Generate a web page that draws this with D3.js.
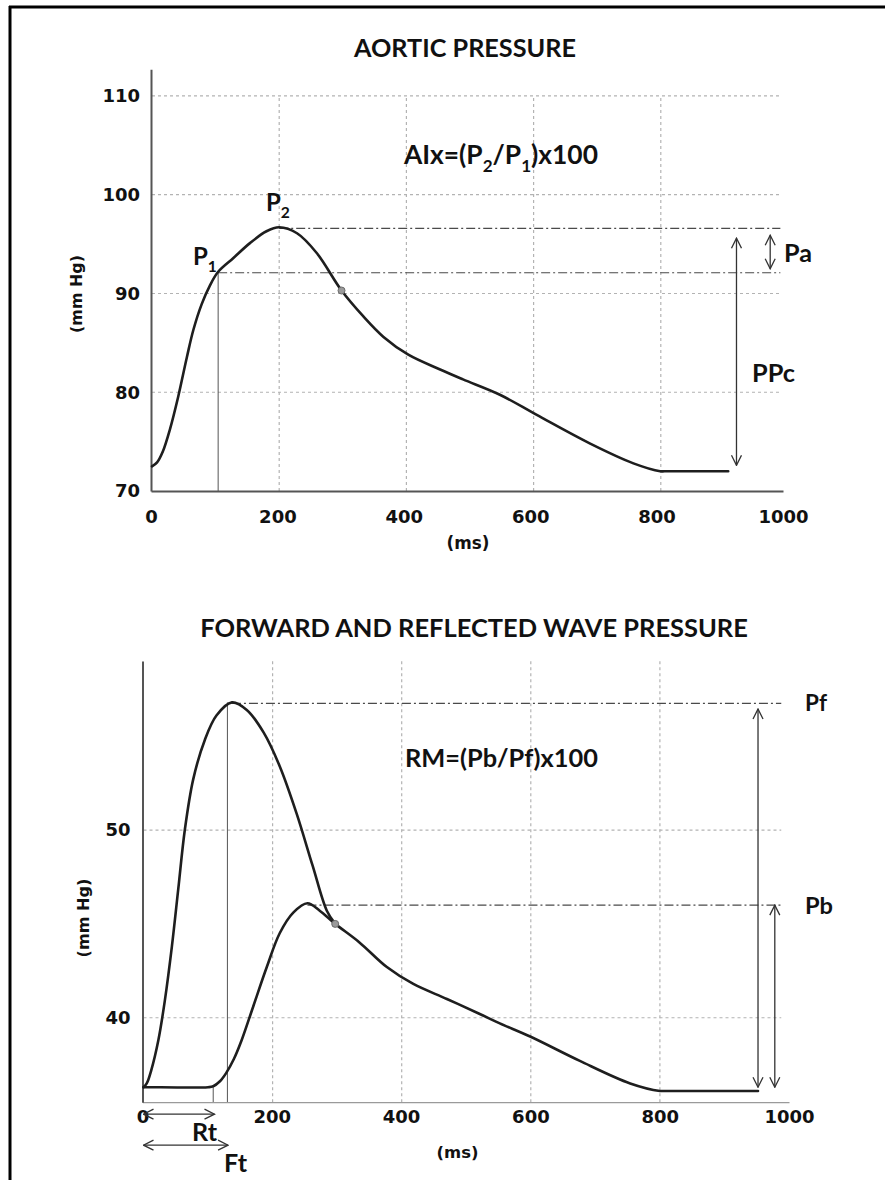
<!DOCTYPE html>
<html><head><meta charset="utf-8">
<script src="https://cdn.jsdelivr.net/npm/d3@7"></script>
<style>body{margin:0;background:#fff}svg{display:block}</style>
</head><body>
<svg id="c" width="885" height="1180"></svg>
<script>
// ---------- DATA ----------
const xTicks = [0, 200, 400, 600, 800, 1000];
const gridX = [200, 400, 600, 800];
const aorticYTicks = [70, 80, 90, 100, 110];
const aorticGridY = [80, 90, 100, 110];
const waveYTicks = [40, 50];

const aorticTime = [0,8,17,28,41,55,65,78,91,104,128,154,180,200,228,259,298,332,364,403,453,489,547,605,689,757,799,806,906];
const aorticPressure = [72.5,72.9,74.0,76.2,79.5,83.6,86.3,88.9,90.8,92.2,93.6,95.1,96.3,96.7,96.1,94.1,90.3,87.7,85.6,83.8,82.3,81.3,79.75,77.7,74.8,72.8,72.0,72.0,72.0];

const forwardTime = [0,5,12,23,33,44,54,64,77,95,113,137,160,186,211,237,262,284,297];
const forwardPressure = [36.3,36.5,37.2,38.8,40.9,43.8,46.9,50.0,52.7,54.8,56.1,56.8,56.4,55.2,53.4,50.9,48.1,45.7,45.0];

const reflectedTime = [0,8,100,108,118,128,140,152,170,191,211,232,254,273,297,335,377,418,470,521,552,599,676,754,800,808,952];
const reflectedPressure = [36.3,36.3,36.3,36.35,36.6,37.05,37.8,38.8,40.6,42.7,44.5,45.6,46.1,45.7,45.0,44.0,42.7,41.8,41.0,40.2,39.7,39.0,37.7,36.5,36.1,36.1,36.1];

// annotation values (ms, mmHg)
const p1Point = [104, 92.2];
const p2Point = [200, 96.7];
const aorticCross = [298, 90.3];
const ppcArrow = [919, 95.6, 72.6];
const paArrow = [972, 95.9, 92.5];
const pfPeak = [137, 56.8];
const pbPeak = [254, 46.0];
const waveCross = [297, 45.0];
const pfArrow = [952, 56.45, 36.3];
const pbArrow = [978, 46.0, 36.3];
const rtTime = 108;
const ftTime = 130;
const gridEnd = 988;

// ---------- SETUP ----------
const svg = d3.select('#c');
const TITLE_FONT = 'Lato, "Open Sans", sans-serif';
const TICK_FONT = '"DejaVu Sans", sans-serif';
const GRID = '#b3b3b3', DASHDOT = '#4a4a4a', CURVE = '#1e1e1e';

const defs = svg.append('defs');
defs.append('marker').attr('id','ah').attr('viewBox','-1 -6 12 12')
  .attr('refX',10).attr('refY',0).attr('markerWidth',12).attr('markerHeight',12)
  .attr('markerUnits','userSpaceOnUse').attr('orient','auto-start-reverse')
  .append('path').attr('d','M0,-5 L10,0 L0,5').attr('fill','none')
  .attr('stroke','#333').attr('stroke-width',1.3);

// frame
svg.append('line').attr('x1',9).attr('x2',885).attr('y1',7).attr('y2',7).attr('stroke','#000').attr('stroke-width',3);
svg.append('line').attr('x1',10).attr('x2',10).attr('y1',6).attr('y2',1180).attr('stroke','#000').attr('stroke-width',3);

function label(g, parts, o) {
  const size0 = o.size || 20;
  const t = g.append('text')
    .attr('font-family', o.family || TITLE_FONT)
    .attr('font-weight', o.weight || 'bold')
    .attr('font-size', size0)
    .attr('text-anchor', o.anchor || 'start')
    .attr('fill', '#111');
  if (typeof parts === 'string') parts = [{t: parts}];
  const spans = parts.map(p => {
    const s = t.append('tspan').text(p.t);
    if (p.sub) s.attr('font-size', '0.65em');
    return {s, sub: !!p.sub};
  });
  let size = size0;
  if (o.width) {
    const w = t.node().getComputedTextLength();
    size = size0 * o.width / w;
    t.attr('font-size', size);
  }
  let shifted = false;
  spans.forEach(({s, sub}) => {
    if (sub && !shifted) { s.attr('dy', 0.3 * size); shifted = true; }
    else if (!sub && shifted) { s.attr('dy', -0.3 * size); shifted = false; }
  });
  if (o.rotate) {
    t.attr('transform', `translate(${o.x},${o.cy}) rotate(-90)`).attr('x', 0).attr('y', 0.36 * size);
  } else {
    t.attr('x', o.x).attr('y', o.cy + 0.36 * size);
  }
  return t;
}

function gridLines(g, xS, yS, xs, ys, yTop) {
  g.selectAll(null).data(ys).enter().append('line')
    .attr('x1', xS(0)).attr('x2', xS(gridEnd)).attr('y1', d => yS(d)).attr('y2', d => yS(d))
    .attr('stroke', GRID).attr('stroke-width', 1.2).attr('stroke-dasharray', '3,3');
  g.selectAll(null).data(xs).enter().append('line')
    .attr('x1', d => xS(d)).attr('x2', d => xS(d)).attr('y1', yS.range()[0]).attr('y2', yS(yTop))
    .attr('stroke', GRID).attr('stroke-width', 1.2).attr('stroke-dasharray', '3,3');
}
function hDashDot(g, xS, yS, t0, v) {
  g.append('line').attr('x1', xS(t0)).attr('x2', xS(gridEnd)).attr('y1', yS(v)).attr('y2', yS(v))
    .attr('stroke', DASHDOT).attr('stroke-width', 1.2).attr('stroke-dasharray', '9,3,2,3');
}
function vArrow(g, xS, yS, a) {
  g.append('line').attr('x1', xS(a[0])).attr('x2', xS(a[0])).attr('y1', yS(a[1])).attr('y2', yS(a[2]))
    .attr('stroke', '#333').attr('stroke-width', 1.3)
    .attr('marker-start', 'url(#ah)').attr('marker-end', 'url(#ah)');
}
function vThin(g, xS, yS, t, v0, v1) {
  g.append('line').attr('x1', xS(t)).attr('x2', xS(t)).attr('y1', yS(v0)).attr('y2', yS(v1))
    .attr('stroke', '#555').attr('stroke-width', 1);
}
function curve(g, xS, yS, ts, ps) {
  const line = d3.line().x(d => xS(d[0])).y(d => yS(d[1])).curve(d3.curveCatmullRom.alpha(0.5));
  g.append('path').datum(ts.map((t, i) => [t, ps[i]])).attr('d', line)
    .attr('fill', 'none').attr('stroke', CURVE).attr('stroke-width', 2.6)
    .attr('stroke-linejoin', 'round').attr('stroke-linecap', 'round');
}
function dot(g, xS, yS, p) {
  g.append('circle').attr('cx', xS(p[0])).attr('cy', yS(p[1])).attr('r', 3.5)
    .attr('fill', '#9a9a9a').attr('stroke', '#6a6a6a').attr('stroke-width', 1);
}
function styleAxis(sel, color, width, fontSize) {
  sel.select('.domain').attr('stroke', color).attr('stroke-width', width);
  sel.selectAll('.tick line').remove();
  sel.selectAll('.tick text').attr('font-family', TICK_FONT).attr('font-weight', 'bold')
    .attr('font-size', fontSize).attr('fill', '#111');
}
const fmt = d3.format('d');

// ---------- TOP CHART: AORTIC PRESSURE ----------
const xA = d3.scaleLinear().domain([0, 1000]).range([152, 788]);
const yA = d3.scaleLinear().domain([70, 112.7]).range([491, 69.3]);
const gA = svg.append('g');

gridLines(gA, xA, yA, gridX, aorticGridY, 110);
hDashDot(gA, xA, yA, p2Point[0], 96.6);
hDashDot(gA, xA, yA, p1Point[0], 92.1);
vThin(gA, xA, yA, p1Point[0], p1Point[1], 70);

const axA_y = gA.append('g').attr('transform', `translate(${xA(0) - 1},0)`)
  .call(d3.axisLeft(yA).tickValues(aorticYTicks).tickFormat(fmt).tickSize(0).tickPadding(11).tickSizeOuter(0));
styleAxis(axA_y, '#555', 2, 18);
const axA_x = gA.append('g').attr('transform', `translate(0,${yA(70)})`)
  .call(d3.axisBottom(xA.copy().range([151, 783])).tickValues(xTicks).tickFormat(fmt).tickSize(0).tickPadding(19).tickSizeOuter(0));
styleAxis(axA_x, '#555', 2, 18);

curve(gA, xA, yA, aorticTime, aorticPressure);
dot(gA, xA, yA, aorticCross);
vArrow(gA, xA, yA, ppcArrow);
vArrow(gA, xA, yA, paArrow);

label(gA, 'AORTIC PRESSURE', {x: 465, cy: 48, anchor: 'middle', width: 222, size: 22});
label(gA, [{t:'AIx=(P'},{t:'2',sub:true},{t:'/P'},{t:'1',sub:true},{t:')x100'}], {x: 404, cy: 155, width: 194, size: 24});
label(gA, [{t:'P'},{t:'2',sub:true}], {x: 266, cy: 202.5, size: 24});
label(gA, [{t:'P'},{t:'1',sub:true}], {x: 193, cy: 256.5, size: 24});
label(gA, 'Pa', {x: 784, cy: 252.5, width: 28, size: 24});
label(gA, 'PPc', {x: 752, cy: 373, width: 43, size: 24});
label(gA, '(ms)', {x: 468, cy: 543, anchor: 'middle', width: 43, size: 15, family: TICK_FONT});
label(gA, '(mm Hg)', {x: 76, cy: 294, anchor: 'middle', width: 78, size: 14, family: TICK_FONT, rotate: true});

// ---------- BOTTOM CHART: FORWARD AND REFLECTED WAVE ----------
const xB = d3.scaleLinear().domain([0, 1000]).range([143.5, 789]);
const yB = d3.scaleLinear().domain([35.5, 59]).range([1102.2, 661.1]);
const gB = svg.append('g');

gridLines(gB, xB, yB, gridX, waveYTicks, 59);
hDashDot(gB, xB, yB, pfPeak[0], 56.75);
hDashDot(gB, xB, yB, pbPeak[0], pbPeak[1]);
vThin(gB, xB, yB, ftTime, pfPeak[1], 35.5);
vThin(gB, xB, yB, rtTime, 36.3, 35.5);

const axB_x = gB.append('g').attr('transform', `translate(0,${yB(35.5)})`)
  .call(d3.axisBottom(xB.copy().range([142.5, 789])).tickValues(xTicks).tickFormat(fmt).tickSize(0).tickPadding(8).tickSizeOuter(0));
styleAxis(axB_x, '#9a9a9a', 1.2, 18);
const axB_y = gB.append('g').attr('transform', `translate(${xB(0) - 1},0)`)
  .call(d3.axisLeft(yB).tickValues(waveYTicks).tickFormat(fmt).tickSize(0).tickPadding(12).tickSizeOuter(0));
styleAxis(axB_y, '#555', 2, 18);

curve(gB, xB, yB, reflectedTime, reflectedPressure);
curve(gB, xB, yB, forwardTime, forwardPressure);
dot(gB, xB, yB, waveCross);
vArrow(gB, xB, yB, pfArrow);
vArrow(gB, xB, yB, pbArrow);

// Rt / Ft horizontal arrows below the axis
const axisYB = yB(35.5);
gB.append('line').attr('x1', xB(0)).attr('x2', xB(rtTime + 2)).attr('y1', axisYB + 12).attr('y2', axisYB + 12)
  .attr('stroke', '#333').attr('stroke-width', 1.3).attr('marker-start', 'url(#ah)').attr('marker-end', 'url(#ah)');
gB.append('line').attr('x1', xB(0)).attr('x2', xB(ftTime + 1)).attr('y1', axisYB + 43).attr('y2', axisYB + 43)
  .attr('stroke', '#333').attr('stroke-width', 1.3).attr('marker-start', 'url(#ah)').attr('marker-end', 'url(#ah)');

label(gB, 'FORWARD AND REFLECTED WAVE PRESSURE', {x: 474, cy: 628, anchor: 'middle', width: 548, size: 22});
label(gB, 'RM=(Pb/Pf)x100', {x: 405, cy: 758, width: 193, size: 24});
label(gB, 'Pf', {x: 805, cy: 703, width: 22, size: 24});
label(gB, 'Pb', {x: 805, cy: 905, width: 28, size: 24});
label(gB, 'Rt', {x: 192, cy: 1131.5, width: 25, size: 24});
label(gB, 'Ft', {x: 224, cy: 1162.5, width: 23, size: 24});
label(gB, '(ms)', {x: 457.5, cy: 1152, anchor: 'middle', width: 42, size: 15, family: TICK_FONT});
label(gB, '(mm Hg)', {x: 83, cy: 918, anchor: 'middle', width: 79, size: 14, family: TICK_FONT, rotate: true});
</script>
</body></html>
